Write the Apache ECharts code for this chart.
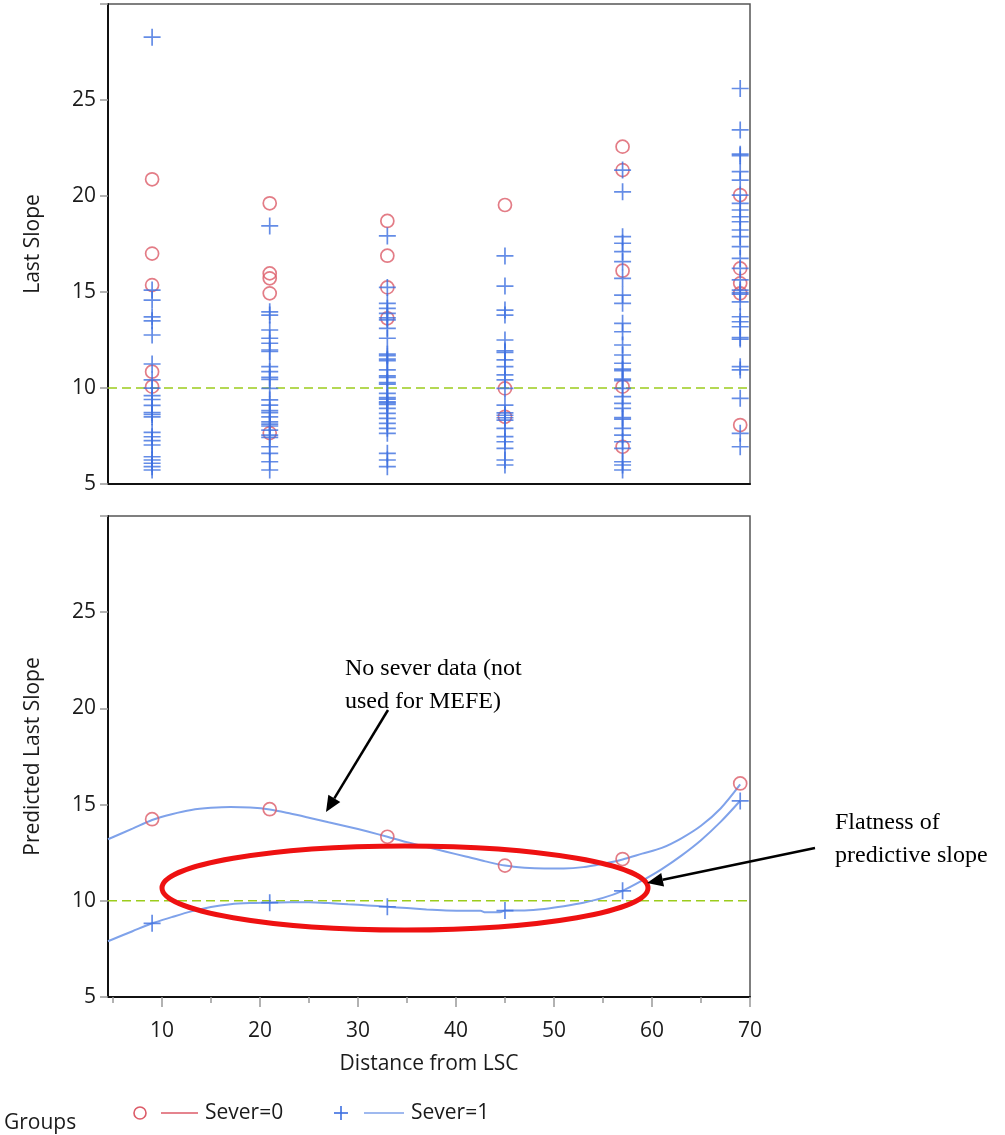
<!DOCTYPE html>
<html><head><meta charset="utf-8">
<script src="https://cdn.jsdelivr.net/npm/echarts@6/dist/echarts.min.js"></script>
<style>html,body{margin:0;padding:0;background:#fff}#c{width:1005px;height:1135px}</style>
</head><body><div id="c"></div>
<script>
// ---- data ----
const distances = [9, 21, 33, 45, 57, 69];
const xTickValues = [10, 20, 30, 40, 50, 60, 70];
const xMinorTickValues = [5, 15, 25, 35, 45, 55, 65];

// Top panel: Last Slope, Sever=0 (circles), per distance
const s0_d09 = [20.87, 17.0, 15.36, 10.85, 10.07];
const s0_d21 = [19.62, 15.97, 15.71, 14.93, 7.65];
const s0_d33 = [18.7, 16.89, 15.24, 13.63];
const s0_d45 = [19.53, 9.98, 8.5];
const s0_d57 = [22.57, 21.35, 16.11, 10.07, 6.94];
const s0_d69 = [20.05, 16.23, 15.45, 14.93, 8.07];

// Top panel: Last Slope, Sever=1 (plus), per distance
const s1_d09 = [28.27, 15.1, 14.58, 13.5, 13.7, 12.76, 11.25, 10.42, 9.99, 9.4, 9.6, 9.1, 8.5, 8.62, 8.72, 7.69, 7.46, 7.26, 7.03, 6.42, 6.25, 6.08, 5.9, 5.73];
const s1_d21 = [18.44, 13.97, 13.8, 13.02, 12.59, 12.33, 11.9, 11.98, 11.11, 10.85, 10.45, 10.55, 9.98, 9.38, 9.11, 8.72, 8.82, 8.5, 8.24, 8.02, 8.12, 7.81, 7.55, 7.43, 6.94, 6.6, 6.16, 5.73];
const s1_d33 = [17.92, 15.24, 14.41, 14.15, 13.89, 13.55, 13.65, 13.11, 12.59, 11.68, 11.76, 11.42, 11.5, 10.94, 10.55, 10.63, 10.2, 10.28, 9.72, 9.42, 9.5, 9.15, 9.22, 9.28, 8.94, 8.68, 8.42, 8.16, 7.9, 7.64, 6.6, 6.25, 5.9];
const s1_d45 = [16.88, 15.31, 14.06, 13.8, 12.5, 11.85, 11.93, 11.46, 11.11, 10.68, 10.42, 9.98, 9.11, 8.7, 8.58, 8.45, 8.33, 7.9, 7.47, 7.2, 6.86, 6.25, 5.99];
const s1_d57 = [21.35, 20.22, 17.88, 17.54, 17.1, 16.58, 15.71, 14.84, 14.41, 13.37, 12.93, 12.24, 11.72, 11.29, 10.9, 10.98, 10.38, 10.46, 9.98, 9.55, 9.2, 8.94, 8.38, 8.46, 7.9, 7.55, 7.2, 6.86, 6.16, 5.99, 5.73];
const s1_d69 = [25.6, 23.44, 22.1, 22.18, 21.27, 20.83, 20.05, 19.62, 19.27, 18.92, 18.66, 18.23, 17.88, 17.36, 16.75, 16.23, 15.63, 15.1, 14.89, 14.97, 14.49, 13.71, 13.45, 13.19, 12.55, 12.63, 11.11, 10.94, 9.46, 7.64, 6.94];

// Bottom panel: predicted last slope at each distance
const predSever0 = [14.24, 14.76, 13.33, 11.83, 12.17, 16.1];
const predSever1 = [8.83, 9.9, 9.69, 9.49, 10.52, 15.19];

// Smooth fit curves
const fit0X = [4.5, 7, 9, 11, 13, 15, 17, 19, 21, 23, 25, 27, 29, 31, 33, 35, 37, 39, 41, 43, 45, 47, 49, 51, 53, 55, 57, 59, 61, 63, 65, 67, 69];
const fit0Y = [13.2, 13.75, 14.2, 14.5, 14.72, 14.83, 14.88, 14.85, 14.75, 14.55, 14.32, 14.08, 13.85, 13.6, 13.33, 13.05, 12.8, 12.55, 12.3, 12.05, 11.83, 11.72, 11.68, 11.68, 11.75, 11.93, 12.15, 12.45, 12.75, 13.25, 13.9, 14.8, 16.05];
const fit1X = [4.5, 7, 9, 11, 13, 15, 17, 19, 21, 23, 25, 27, 29, 31, 33, 35, 37, 39, 41, 42.5, 43, 44.5, 45, 47, 49, 51, 53, 55, 57, 59, 61, 63, 65, 67, 69];
const fit1Y = [7.9, 8.42, 8.83, 9.15, 9.45, 9.68, 9.82, 9.88, 9.9, 9.92, 9.92, 9.88, 9.82, 9.76, 9.69, 9.62, 9.55, 9.5, 9.48, 9.48, 9.4, 9.4, 9.49, 9.5, 9.58, 9.72, 9.9, 10.15, 10.52, 11.05, 11.65, 12.35, 13.15, 14.1, 15.2];

const refLevel = 10;
const yTickStep = 5;

// ---- build ----
const X_MIN = 4.5, X_MAX = 70;
const s0Cols = [s0_d09, s0_d21, s0_d33, s0_d45, s0_d57, s0_d69];
const s1Cols = [s1_d09, s1_d21, s1_d33, s1_d45, s1_d57, s1_d69];
const pairsFromCols = cols => cols.flatMap((vals, i) => vals.map(v => [distances[i], v]));
const zip = (xs, ys) => xs.map((x, i) => [x, ys[i]]);

const RED = '#dc5b68', BLUE = '#3d6fe0', FIT = '#7fa2ea', DASH = '#9ccc1c';
const FONT = 'Open Sans';
const PLUS = 'path://M0,8.5L17,8.5M8.5,0L8.5,17';

const circleSeries = (data, xi, yi) => ({
  type: 'scatter', xAxisIndex: xi, yAxisIndex: yi, data,
  symbol: 'circle', symbolSize: 13, z: 3,
  itemStyle: { color: 'rgba(0,0,0,0)', borderColor: RED, borderWidth: 1.7 },
  emphasis: { disabled: true }, silent: true
});
const plusSeries = (data, xi, yi) => ({
  type: 'scatter', xAxisIndex: xi, yAxisIndex: yi, data,
  symbol: PLUS, symbolSize: 17, z: 4,
  itemStyle: { color: 'rgba(0,0,0,0)', borderColor: BLUE, borderWidth: 1.7 },
  emphasis: { disabled: true }, silent: true
});
const refSeries = (xi, yi) => ({
  type: 'line', xAxisIndex: xi, yAxisIndex: yi, data: [[X_MIN, refLevel], [X_MAX, refLevel]],
  symbol: 'none', z: 2, lineStyle: { color: DASH, width: 1.6, type: [9, 5] }, silent: true
});
const fitSeries = (data) => ({
  type: 'line', xAxisIndex: 1, yAxisIndex: 1, data, smooth: 0.3,
  symbol: 'none', z: 2, lineStyle: { color: FIT, width: 2 }, silent: true
});

const yAxisBase = (gi, name) => ({
  type: 'value', gridIndex: gi, min: 5, max: 30, interval: yTickStep,
  name, nameLocation: 'middle', nameGap: 64,
  nameTextStyle: { fontFamily: FONT, fontSize: 21, color: '#1a1a1a' },
  axisLine: { show: true, lineStyle: { color: '#111', width: 2 } },
  axisTick: { show: true, length: 8, lineStyle: { color: '#999', width: 1.5 } },
  axisLabel: { fontFamily: FONT, fontSize: 21, color: '#1a1a1a', margin: 12,
    formatter: v => (v === 30 ? '' : String(v)) },
  splitLine: { show: false }
});

const option = {
  animation: false,
  backgroundColor: '#fff',
  grid: [
    { left: 108, top: 4, width: 642, height: 480, show: true, borderColor: '#555', borderWidth: 1.5, backgroundColor: 'transparent' },
    { left: 108, top: 516, width: 642, height: 481, show: true, borderColor: '#555', borderWidth: 1.5, backgroundColor: 'transparent' }
  ],
  xAxis: [
    { type: 'value', gridIndex: 0, min: X_MIN, max: X_MAX,
      axisLine: { show: true, onZero: false, lineStyle: { color: '#111', width: 2 } },
      axisTick: { show: false }, axisLabel: { show: false }, splitLine: { show: false } },
    { type: 'value', gridIndex: 1, min: X_MIN, max: X_MAX,
      name: 'Distance from LSC', nameLocation: 'middle', nameGap: 57,
      nameTextStyle: { fontFamily: FONT, fontSize: 21, color: '#1a1a1a' },
      axisLine: { show: true, onZero: false, lineStyle: { color: '#111', width: 2 } },
      axisTick: { show: true, length: 10, customValues: xTickValues, lineStyle: { color: '#999', width: 1.5 } },
      axisLabel: { show: true, customValues: xTickValues, fontFamily: FONT, fontSize: 21, color: '#1a1a1a', margin: 24 },
      splitLine: { show: false } },
    { type: 'value', gridIndex: 1, min: X_MIN, max: X_MAX, position: 'bottom',
      axisLine: { show: false, onZero: false },
      axisTick: { show: true, length: 6, customValues: xMinorTickValues, lineStyle: { color: '#999', width: 1.5 } },
      axisLabel: { show: false }, splitLine: { show: false } }
  ],
  yAxis: [ yAxisBase(0, 'Last Slope'), yAxisBase(1, 'Predicted Last Slope') ],
  series: [
    refSeries(0, 0),
    circleSeries(pairsFromCols(s0Cols), 0, 0),
    plusSeries(pairsFromCols(s1Cols), 0, 0),
    refSeries(1, 1),
    fitSeries(zip(fit0X, fit0Y)),
    fitSeries(zip(fit1X, fit1Y)),
    circleSeries(zip(distances, predSever0), 1, 1),
    plusSeries(zip(distances, predSever1), 1, 1)
  ]
};

// ---- annotations & legend (graphic) ----
function arrow(x1, y1, x2, y2) {
  const dx = x2 - x1, dy = y2 - y1, L = Math.hypot(dx, dy);
  const ux = dx / L, uy = dy / L, hl = 16, hw = 7;
  const bx = x2 - ux * hl, by = y2 - uy * hl;
  return [
    { type: 'line', shape: { x1, y1, x2: bx, y2: by }, style: { stroke: '#000', lineWidth: 2.5 }, z: 10 },
    { type: 'polygon', shape: { points: [[x2, y2], [bx - uy * hw, by + ux * hw], [bx + uy * hw, by - ux * hw]] }, style: { fill: '#000' }, z: 10 }
  ];
}
const serif = 'Liberation Serif';
const lbl = { fontFamily: FONT, fontSize: 21, fill: '#1a1a1a' };
option.graphic = [
  { type: 'text', left: 345, top: 652, style: { text: 'No sever data (not\nused for MEFE)', fontFamily: serif, fontSize: 24, lineHeight: 33, fill: '#000' }, z: 10 },
  ...arrow(388, 710, 326, 812),
  { type: 'text', left: 835, top: 806, style: { text: 'Flatness of\npredictive slope', fontFamily: serif, fontSize: 24, lineHeight: 33, fill: '#000' }, z: 10 },
  ...arrow(815, 848, 647, 883),
  { type: 'ellipse', shape: { cx: 405, cy: 888, rx: 243, ry: 42 }, style: { fill: 'none', stroke: '#ee1111', lineWidth: 5 }, z: 9 },
  // legend
  { type: 'text', left: 4, top: 1113, style: Object.assign({ text: 'Groups' }, lbl) },
  { type: 'circle', shape: { cx: 140, cy: 1113, r: 6 }, style: { fill: 'none', stroke: RED, lineWidth: 1.6 } },
  { type: 'line', shape: { x1: 161, y1: 1113, x2: 198, y2: 1113 }, style: { stroke: RED, lineWidth: 1.6 } },
  { type: 'text', left: 205, top: 1103, style: Object.assign({ text: 'Sever=0' }, lbl) },
  { type: 'line', shape: { x1: 334, y1: 1113, x2: 348, y2: 1113 }, style: { stroke: BLUE, lineWidth: 1.6 } },
  { type: 'line', shape: { x1: 341, y1: 1106, x2: 341, y2: 1120 }, style: { stroke: BLUE, lineWidth: 1.6 } },
  { type: 'line', shape: { x1: 364, y1: 1113, x2: 404, y2: 1113 }, style: { stroke: FIT, lineWidth: 1.6 } },
  { type: 'text', left: 411, top: 1103, style: Object.assign({ text: 'Sever=1' }, lbl) }
];

const chart = echarts.init(document.getElementById('c'), null, { renderer: 'canvas' });
chart.setOption(option);
</script></body></html>
